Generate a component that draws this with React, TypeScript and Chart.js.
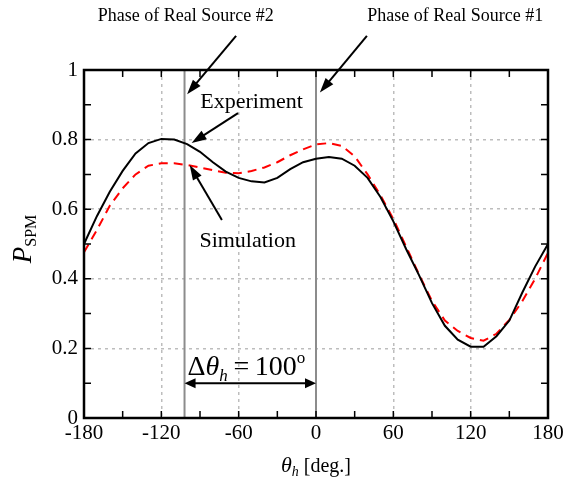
import { useEffect, useRef } from "react";
import { Chart, registerables } from "chart.js";

Chart.register(...registerables);

const angles = [-180, -170, -160, -150, -140, -130, -120, -110, -100, -90, -80, -70, -60, -50, -40, -30, -20, -10, 0, 10, 20, 30, 40, 50, 60, 70, 80, 90, 100, 110, 120, 130, 140, 150, 160, 170, 180];
const experiment = [0.5, 0.58, 0.65, 0.71, 0.76, 0.79, 0.802, 0.8, 0.787, 0.765, 0.735, 0.708, 0.69, 0.68, 0.677, 0.69, 0.715, 0.735, 0.745, 0.75, 0.745, 0.725, 0.69, 0.635, 0.565, 0.485, 0.41, 0.33, 0.265, 0.225, 0.205, 0.205, 0.235, 0.28, 0.36, 0.435, 0.5];
const simulation = [0.476, 0.54, 0.61, 0.66, 0.7, 0.725, 0.732, 0.732, 0.727, 0.72, 0.712, 0.705, 0.703, 0.71, 0.72, 0.735, 0.755, 0.772, 0.786, 0.79, 0.782, 0.752, 0.7, 0.64, 0.572, 0.492, 0.412, 0.336, 0.28, 0.25, 0.23, 0.222, 0.242, 0.282, 0.335, 0.4, 0.475];
const xTicks = [-180, -120, -60, 0, 60, 120, 180];
const xMinorTicks = [-180, -150, -120, -90, -60, -30, 0, 30, 60, 90, 120, 150, 180];
const yMinorTicks = [0, 0.1, 0.2, 0.3, 0.4, 0.5, 0.6, 0.7, 0.8, 0.9, 1];
const sourcePhases = [-102, 0];
const sourceLabels = ["Phase of Real Source #2", "Phase of Real Source #1"];
const seriesLabels = ["Experiment", "Simulation"];

const FONT = '"Liberation Serif", "Times New Roman", serif';

type Seg = { t: string; size: number; italic?: boolean; dy?: number };

function fontOf(s: Seg) {
  return `${s.italic ? "italic " : ""}${s.size}px ${FONT}`;
}

function drawRich(ctx: CanvasRenderingContext2D, segs: Seg[], x: number, y: number, align: "left" | "center") {
  let total = 0;
  for (const s of segs) {
    ctx.font = fontOf(s);
    total += ctx.measureText(s.t).width;
  }
  let cx = align === "center" ? x - total / 2 : x;
  ctx.textAlign = "left";
  ctx.textBaseline = "alphabetic";
  for (const s of segs) {
    ctx.font = fontOf(s);
    ctx.fillText(s.t, cx, y + (s.dy || 0));
    cx += ctx.measureText(s.t).width;
  }
}

function arrowHead(ctx: CanvasRenderingContext2D, fx: number, fy: number, tx: number, ty: number, len: number, half: number) {
  const a = Math.atan2(ty - fy, tx - fx);
  ctx.beginPath();
  ctx.moveTo(tx, ty);
  ctx.lineTo(tx - len * Math.cos(a) + half * Math.sin(a), ty - len * Math.sin(a) - half * Math.cos(a));
  ctx.lineTo(tx - len * Math.cos(a) - half * Math.sin(a), ty - len * Math.sin(a) + half * Math.cos(a));
  ctx.closePath();
  ctx.fill();
}

function arrow(ctx: CanvasRenderingContext2D, fx: number, fy: number, tx: number, ty: number) {
  const a = Math.atan2(ty - fy, tx - fx);
  ctx.beginPath();
  ctx.moveTo(fx, fy);
  ctx.lineTo(tx - 10 * Math.cos(a), ty - 10 * Math.sin(a));
  ctx.stroke();
  arrowHead(ctx, fx, fy, tx, ty, 15, 5);
}

const overlay = {
  id: "overlay",
  beforeDatasetsDraw(chart: any) {
    const { ctx, chartArea: ca, scales } = chart;
    const xs = scales.x;
    ctx.save();
    ctx.strokeStyle = "#8c8c8c";
    ctx.lineWidth = 2;
    for (const p of sourcePhases) {
      const px = xs.getPixelForValue(p);
      ctx.beginPath();
      ctx.moveTo(px, ca.top);
      ctx.lineTo(px, ca.bottom);
      ctx.stroke();
    }
    ctx.restore();
  },
  afterDraw(chart: any) {
    const { ctx, chartArea: ca, scales } = chart;
    const xs = scales.x;
    const ys = scales.y;
    const X = (v: number) => xs.getPixelForValue(v);
    const Y = (v: number) => ys.getPixelForValue(v);
    ctx.save();
    ctx.strokeStyle = "#000";
    ctx.fillStyle = "#000";
    // ticks
    ctx.lineWidth = 1.5;
    const tl = 7;
    for (const t of xMinorTicks) {
      const px = X(t);
      ctx.beginPath();
      ctx.moveTo(px, ca.bottom);
      ctx.lineTo(px, ca.bottom - tl);
      ctx.moveTo(px, ca.top);
      ctx.lineTo(px, ca.top + tl);
      ctx.stroke();
    }
    for (const t of yMinorTicks) {
      const py = Y(t);
      ctx.beginPath();
      ctx.moveTo(ca.left, py);
      ctx.lineTo(ca.left + tl, py);
      ctx.moveTo(ca.right, py);
      ctx.lineTo(ca.right - tl, py);
      ctx.stroke();
    }
    // frame
    ctx.lineWidth = 2.5;
    ctx.strokeRect(ca.left, ca.top, ca.right - ca.left, ca.bottom - ca.top);

    // axis titles
    drawRich(ctx, [
      { t: "θ", size: 22, italic: true },
      { t: "h", size: 14, italic: true, dy: 4 },
      { t: " [deg.]", size: 20 },
    ], (ca.left + ca.right) / 2, 472, "center");

    ctx.save();
    ctx.translate(31, (ca.top + ca.bottom) / 2 - 5);
    ctx.rotate(-Math.PI / 2);
    drawRich(ctx, [
      { t: "P", size: 27, italic: true },
      { t: "SPM", size: 16, dy: 5 },
    ], 0, 0, "center");
    ctx.restore();

    // source labels and arrows
    ctx.lineWidth = 2;
    drawRich(ctx, [{ t: sourceLabels[0], size: 18 }], X(-101), Y(1.14), "center");
    drawRich(ctx, [{ t: sourceLabels[1], size: 18 }], X(108), Y(1.14), "center");
    arrow(ctx, X(-62), Y(1.098), X(-100), Y(0.93));
    arrow(ctx, X(39.5), Y(1.098), X(3), Y(0.935));

    // series labels
    drawRich(ctx, [{ t: seriesLabels[0], size: 22 }], X(-50), Y(0.89), "center");
    arrow(ctx, X(-60.5), Y(0.876), X(-96.5), Y(0.79));
    drawRich(ctx, [{ t: seriesLabels[1], size: 22 }], X(-53), Y(0.49), "center");
    arrow(ctx, X(-73), Y(0.569), X(-98), Y(0.727));

    // delta arrow
    const ay = Y(0.1);
    const ax1 = X(sourcePhases[0]);
    const ax2 = X(sourcePhases[1]);
    ctx.beginPath();
    ctx.moveTo(ax1 + 6, ay);
    ctx.lineTo(ax2 - 6, ay);
    ctx.stroke();
    arrowHead(ctx, ax2, ay, ax1, ay, 11, 5);
    arrowHead(ctx, ax1, ay, ax2, ay, 11, 5);
    drawRich(ctx, [
      { t: "Δ", size: 28 },
      { t: "θ", size: 28, italic: true },
      { t: "h", size: 17, italic: true, dy: 6 },
      { t: "\u2009=\u2009100", size: 28 },
      { t: "o", size: 17, dy: -12 },
    ], ax1 + 3, Y(0.123), "left");
    ctx.restore();
  },
};

export default function App() {
  const ref = useRef<HTMLCanvasElement | null>(null);
  useEffect(() => {
    if (!ref.current) return;
    const chart = new Chart(ref.current, {
      type: "line",
      data: {
        datasets: [
          {
            label: seriesLabels[0],
            data: angles.map((a, i) => ({ x: a, y: experiment[i] })),
            borderColor: "#000",
            borderWidth: 2,
            pointRadius: 0,
            tension: 0,
            fill: false,
          },
          {
            label: seriesLabels[1],
            data: angles.map((a, i) => ({ x: a, y: simulation[i] })),
            borderColor: "#ff0000",
            borderWidth: 2,
            borderDash: [9, 6],
            pointRadius: 0,
            tension: 0,
            fill: false,
          },
        ],
      },
      options: {
        animation: false,
        responsive: false,
        layout: { padding: { left: 0, right: 25, top: 70, bottom: 0 } },
        plugins: { legend: { display: false }, tooltip: { enabled: false } },
        scales: {
          x: {
            type: "linear",
            min: -180,
            max: 180,
            afterBuildTicks: (s: any) => {
              s.ticks = xTicks.map((v) => ({ value: v }));
            },
            afterFit: (s: any) => {
              s.height = 63;
            },
            ticks: { color: "#000", font: { family: FONT, size: 21 }, padding: 3, maxRotation: 0, autoSkip: false },
            grid: { color: "#bdbdbd", lineWidth: 1.5, drawTicks: false },
            border: { display: false, dash: [3, 4] },
          },
          y: {
            min: 0,
            max: 1,
            ticks: {
              stepSize: 0.2,
              color: "#000",
              font: { family: FONT, size: 21 },
              padding: 6,
              callback: (v: any) => String(Math.round(Number(v) * 10) / 10),
            },
            afterFit: (s: any) => {
              s.width = 84;
            },
            grid: { color: "#bdbdbd", lineWidth: 1.5, drawTicks: false },
            border: { display: false, dash: [3, 4] },
          },
        },
      },
      plugins: [overlay],
    });
    return () => chart.destroy();
  }, []);
  return (
    <div style={{ position: "fixed", left: 0, top: 0, width: 573, height: 481, background: "#fff" }}>
      <canvas ref={ref} width={573} height={481} />
    </div>
  );
}
